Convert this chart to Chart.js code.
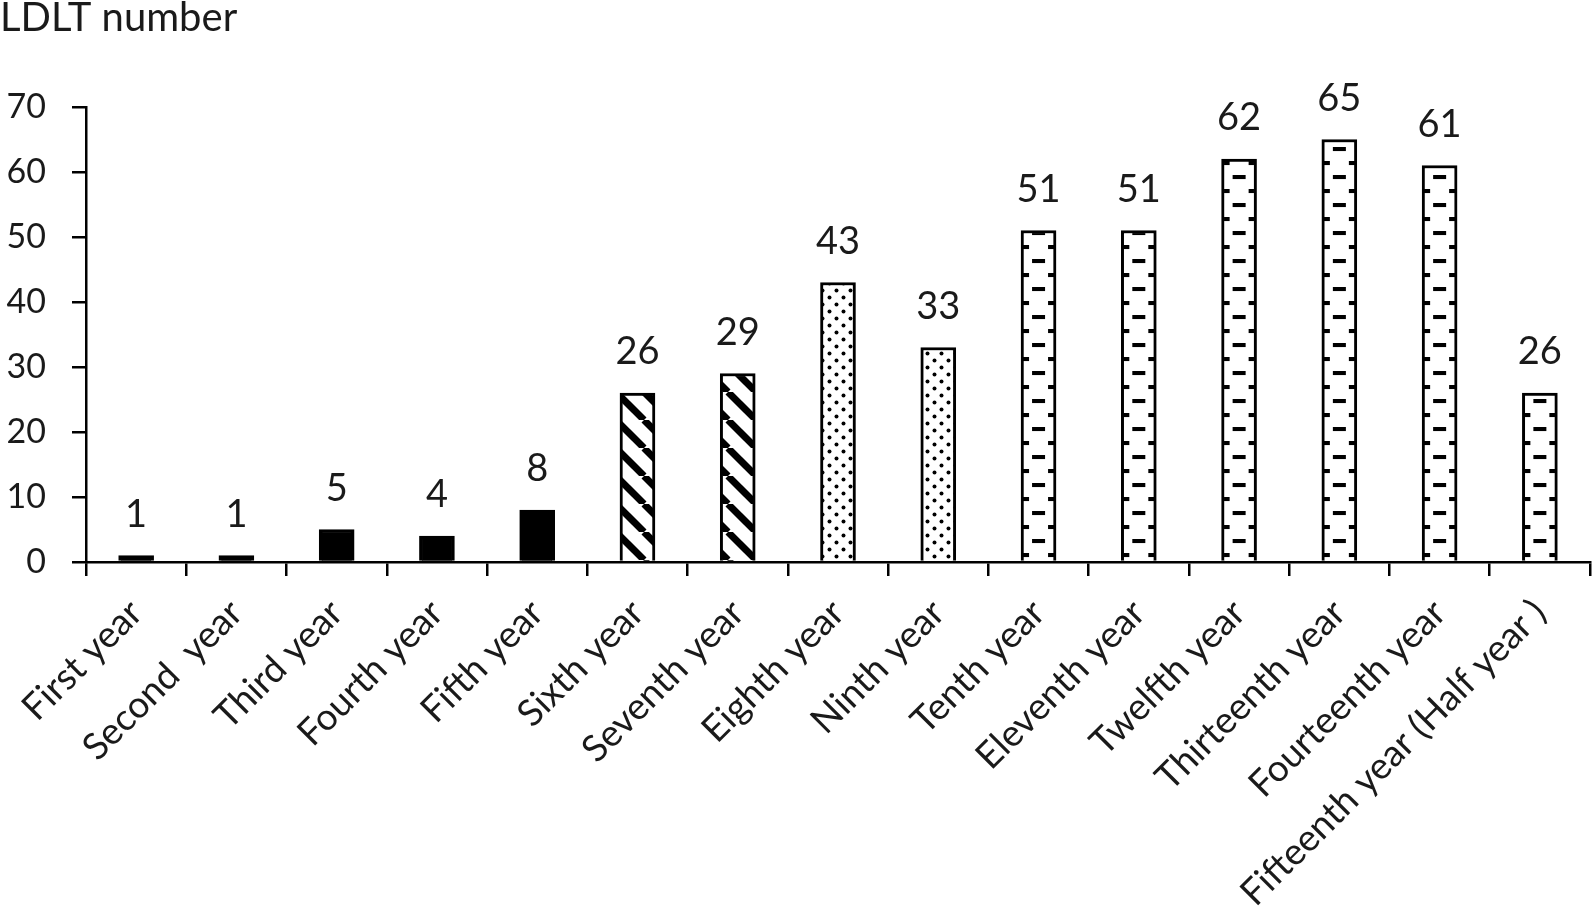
<!DOCTYPE html>
<html>
<head>
<meta charset="utf-8">
<script src="https://cdn.jsdelivr.net/npm/chart.js@4"></script>
<style>
html,body{margin:0;padding:0;background:#fff;overflow:hidden;}
#wrap{width:1592px;height:916px;position:relative;overflow:hidden;}
#c{display:block;}
</style>
</head>
<body>
<div id="wrap"><canvas id="c" width="1592" height="916"></canvas></div>
<script>
const categories = ["First year","Second  year","Third year","Fourth year","Fifth year","Sixth year","Seventh year","Eighth year","Ninth year","Tenth year","Eleventh year","Twelfth year","Thirteenth year","Fourteenth year","Fifteenth year (Half year )"];
const ldltNumbers = [1,1,5,4,8,26,29,43,33,51,51,62,65,61,26];
const fillStyles = ["solid","solid","solid","solid","solid","stripe","stripe","dots","dots","dash","dash","dash","dash","dash","dash"];
const yTicks = [0,10,20,30,40,50,60,70];
const axisTitle = "LDLT number";

const FONT = "Lato, 'Open Sans', sans-serif";
const FS_Y = 34;
const FS_X = 37;
const FS_V = 38;
const FS_T = 40;
const BAR_W = 35;

function tile(w, h, draw){
  const c = document.createElement('canvas'); c.width = w; c.height = h;
  const g = c.getContext('2d'); g.fillStyle = '#fff'; g.fillRect(0,0,w,h);
  g.fillStyle = '#000'; g.strokeStyle = '#000'; draw(g); return c;
}
const ctx0 = document.getElementById('c').getContext('2d');
const stripeTile = tile(28, 28, g => {
  g.lineWidth = 7;
  for (const dx of [-28, 0, 28]) { g.beginPath(); g.moveTo(dx, 0); g.lineTo(dx + 28, 28); g.stroke(); }
});
const stripePat = ctx0.createPattern(stripeTile, 'repeat');
const dotTile = tile(14, 14, g => {
  for (const [x,y] of [[3.5,3.5],[10.5,10.5]]) { g.beginPath(); g.arc(x,y,2,0,Math.PI*2); g.fill(); }
});
const dotPat = ctx0.createPattern(dotTile, 'repeat');
const dashTile = tile(BAR_W, 28, g => {
  g.fillRect(BAR_W/2 - 6.5, 5, 13, 4);
  g.fillRect(0, 19, 8, 4);
  g.fillRect(BAR_W - 8, 19, 8, 4);
});

function bgFor(c){
  const s = fillStyles[c.dataIndex];
  if (s === 'solid') return '#000';
  if (s === 'stripe') return stripePat;
  if (s === 'dots') return dotPat;
  const sc = c.chart.scales && c.chart.scales.x;
  const p = c.chart.ctx.createPattern(dashTile, 'repeat');
  if (sc && p.setTransform) {
    const left = sc.getPixelForValue(c.dataIndex) - BAR_W/2;
    p.setTransform(new DOMMatrix().translate(left, c.chart.scales.y.getPixelForValue(0)));
  }
  return p;
}

const valueLabels = {
  id: 'valueLabels',
  afterDatasetsDraw(chart){
    const g = chart.ctx; const meta = chart.getDatasetMeta(0);
    g.save(); g.font = FS_V + 'px ' + FONT; g.fillStyle = '#1a1a1a';
    g.textAlign = 'center'; g.textBaseline = 'bottom';
    meta.data.forEach((el, i) => { g.fillText(String(ldltNumbers[i]), el.x, el.y - 22); });
    g.restore();
  }
};
const topTitle = {
  id: 'topTitle',
  afterDraw(chart){
    const g = chart.ctx; g.save(); g.font = FS_T + 'px ' + FONT; g.fillStyle = '#1a1a1a';
    g.textAlign = 'left'; g.textBaseline = 'top'; g.fillText(axisTitle, 0, -2); g.restore();
  }
};

new Chart(document.getElementById('c'), {
  type: 'bar',
  data: { labels: categories, datasets: [{ data: ldltNumbers, backgroundColor: bgFor, borderColor: '#000', borderWidth: 3, barThickness: BAR_W, borderSkipped: 'start' }] },
  options: {
    responsive: false, animation: false, devicePixelRatio: 1,
    layout: { padding: { top: 107, right: 2, left: 0, bottom: 0 } },
    plugins: { legend: { display: false }, tooltip: { enabled: false }, title: { display: false } },
    scales: {
      x: {
        grid: { display: true, offset: true, drawOnChartArea: false, drawTicks: true, tickLength: 14, tickColor: '#000', lineWidth: 2.5 },
        border: { display: true, color: '#000', width: 2.5 },
        ticks: { color: '#1a1a1a', font: { family: FONT, size: FS_X }, minRotation: 45, maxRotation: 45, padding: 15, autoSkip: false },
        afterFit(s){ s.height = 916 - 562; s.paddingLeft = 0; s.paddingRight = 0; }
      },
      y: {
        min: 0, max: 70,
        afterBuildTicks(s){ s.ticks = yTicks.map(v => ({ value: v })); },
        grid: { display: true, drawOnChartArea: false, drawTicks: true, tickLength: 14, tickColor: '#000', lineWidth: 2.5 },
        border: { display: true, color: '#000', width: 2.5 },
        ticks: { color: '#1a1a1a', font: { family: FONT, size: FS_Y }, padding: 26 },
        afterFit(s){ s.width = 86; s.paddingTop = 0; s.paddingBottom = 0; }
      }
    }
  },
  plugins: [valueLabels, topTitle]
});
</script>
</body>
</html>
